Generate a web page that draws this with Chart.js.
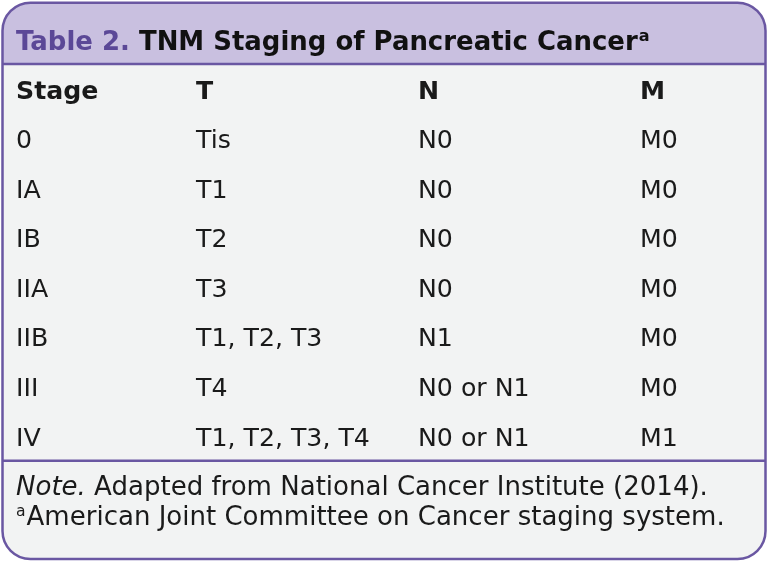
<!DOCTYPE html>
<html>
<head>
<meta charset="utf-8">
<script src="https://cdn.jsdelivr.net/npm/chart.js@4.4.1/dist/chart.umd.min.js"></script>
<style>
  html, body { margin: 0; padding: 0; background: #fff; }
  #wrap { width: 768px; height: 562px; }
</style>
</head>
<body>
<div id="wrap"><canvas id="chart"></canvas></div>
<script>
// table content
const columns = ['Stage', 'T', 'N', 'M'];
const stages = ['0', 'IA', 'IB', 'IIA', 'IIB', 'III', 'IV'];
const tValues = ['Tis', 'T1', 'T2', 'T3', 'T1, T2, T3', 'T4', 'T1, T2, T3, T4'];
const nValues = ['N0', 'N0', 'N0', 'N0', 'N1', 'N0 or N1', 'N0 or N1'];
const mValues = ['M0', 'M0', 'M0', 'M0', 'M0', 'M0', 'M1'];
const titleLabel = 'Table 2.';
const titleText = 'TNM Staging of Pancreatic Cancer';
const noteItalic = 'Note.';
const noteText = ' Adapted from National Cancer Institute (2014).';
const footText = 'American Joint Committee on Cancer staging system.';

// layout (x in px, y in row units)
const colLeft = [16, 196, 418, 640];
const rowTitle = -0.99, rowHeadLine = -0.565, rowNoteLine = 7.44;
const rowNote1 = 7.985, rowNote2 = 8.59, boxTop = -1.80, boxBottom = 9.42;

const purple = '#6a57a2';
const lavender = '#c9c0e0';
const bodyGray = '#f2f3f3';
const fontMain = '"DejaVu Sans", sans-serif';

const cols = [stages, tValues, nValues, mValues];
const datasets = cols.map(function(vals, c) {
    let pts = [{ x: colLeft[c], y: 0, label: columns[c], head: true }];
    vals.forEach(function(v, i) {
        pts.push({ x: colLeft[c], y: i + 1, label: v, head: false });
    });
    return { data: pts, pointRadius: 0, showLine: false };
});

// font size so that a text gets a given width
function fitSize(ctx, text, style, width) {
    ctx.font = style + ' 20px ' + fontMain;
    return 20 * width / ctx.measureText(text).width;
}

function roundRect(ctx, x0, y0, x1, y1, r) {
    ctx.beginPath();
    ctx.moveTo(x0 + r, y0);
    ctx.lineTo(x1 - r, y0);
    ctx.arcTo(x1, y0, x1, y0 + r, r);
    ctx.lineTo(x1, y1 - r);
    ctx.arcTo(x1, y1, x1 - r, y1, r);
    ctx.lineTo(x0 + r, y1);
    ctx.arcTo(x0, y1, x0, y1 - r, r);
    ctx.lineTo(x0, y0 + r);
    ctx.arcTo(x0, y0, x0 + r, y0, r);
    ctx.closePath();
}

const tablePlugin = {
    id: 'tablePlugin',
    beforeDatasetsDraw: function(chart) {
        const ctx = chart.ctx;
        const x = chart.scales.x, y = chart.scales.y;
        const left = x.getPixelForValue(2.5), right = x.getPixelForValue(765.5);
        const top = y.getPixelForValue(boxTop), bottom = y.getPixelForValue(boxBottom);
        const hl = y.getPixelForValue(rowHeadLine), nl = y.getPixelForValue(rowNoteLine);
        ctx.save();
        roundRect(ctx, left, top, right, bottom, 28);
        ctx.fillStyle = bodyGray;
        ctx.fill();
        ctx.save();
        ctx.clip();
        ctx.fillStyle = lavender;
        ctx.fillRect(left, top, right - left, hl - top);
        ctx.restore();
        ctx.strokeStyle = purple;
        ctx.lineWidth = 2.5;
        ctx.beginPath();
        ctx.moveTo(left, hl); ctx.lineTo(right, hl);
        ctx.moveTo(left, nl); ctx.lineTo(right, nl);
        ctx.stroke();
        roundRect(ctx, left, top, right, bottom, 28);
        ctx.stroke();

        // title
        const ty = y.getPixelForValue(rowTitle);
        let tx = x.getPixelForValue(colLeft[0]);
        const ts = fitSize(ctx, titleLabel + ' ' + titleText, 'bold', 622);
        ctx.textBaseline = 'middle';
        ctx.font = 'bold ' + ts + 'px ' + fontMain;
        ctx.fillStyle = '#5b4897';
        ctx.fillText(titleLabel, tx, ty);
        tx += ctx.measureText(titleLabel + ' ').width;
        ctx.fillStyle = '#111';
        ctx.fillText(titleText, tx, ty);
        tx += ctx.measureText(titleText).width + 1;
        ctx.font = 'bold ' + (ts * 0.62) + 'px ' + fontMain;
        ctx.fillText('a', tx, ty - 6);

        // note
        const n1 = y.getPixelForValue(rowNote1), n2 = y.getPixelForValue(rowNote2);
        const ns = fitSize(ctx, noteItalic + noteText, '', 692);
        let nx = x.getPixelForValue(colLeft[0]);
        ctx.fillStyle = '#1a1a1a';
        ctx.font = 'oblique ' + ns + 'px ' + fontMain;
        ctx.fillText(noteItalic, nx, n1);
        nx += ctx.measureText(noteItalic).width;
        ctx.font = ns + 'px ' + fontMain;
        ctx.fillText(noteText, nx, n1);
        nx = x.getPixelForValue(colLeft[0]);
        ctx.font = (ns * 0.6) + 'px ' + fontMain;
        ctx.fillText('a', nx, n2 - 6);
        nx += ctx.measureText('a').width + 1;
        ctx.font = ns + 'px ' + fontMain;
        ctx.fillText(footText, nx, n2);
        ctx.restore();
    },
    afterDatasetsDraw: function(chart) {
        const ctx = chart.ctx;
        const bs = fitSize(ctx, 'T1, T2, T3, T4', '', 174);
        ctx.save();
        ctx.textBaseline = 'middle';
        ctx.fillStyle = '#1a1a1a';
        chart.data.datasets.forEach(function(ds, di) {
            const meta = chart.getDatasetMeta(di);
            meta.data.forEach(function(pt, i) {
                const d = ds.data[i];
                ctx.font = (d.head ? 'bold ' : '') + bs + 'px ' + fontMain;
                ctx.fillText(d.label, pt.x, pt.y);
            });
        });
        ctx.restore();
    }
};

const ctx = document.getElementById('chart').getContext('2d');
const chart = new Chart(ctx, {
    type: 'scatter',
    data: { datasets: datasets },
    options: {
        responsive: true,
        maintainAspectRatio: false,
        animation: false,
        layout: { padding: 0 },
        plugins: { legend: { display: false }, tooltip: { enabled: false } },
        scales: {
            x: { type: 'linear', display: false, min: 0, max: 768 },
            y: { type: 'linear', display: false, reverse: true, min: -1.856, max: 9.481 }
        }
    },
    plugins: [tablePlugin]
});
</script>
</body>
</html>
